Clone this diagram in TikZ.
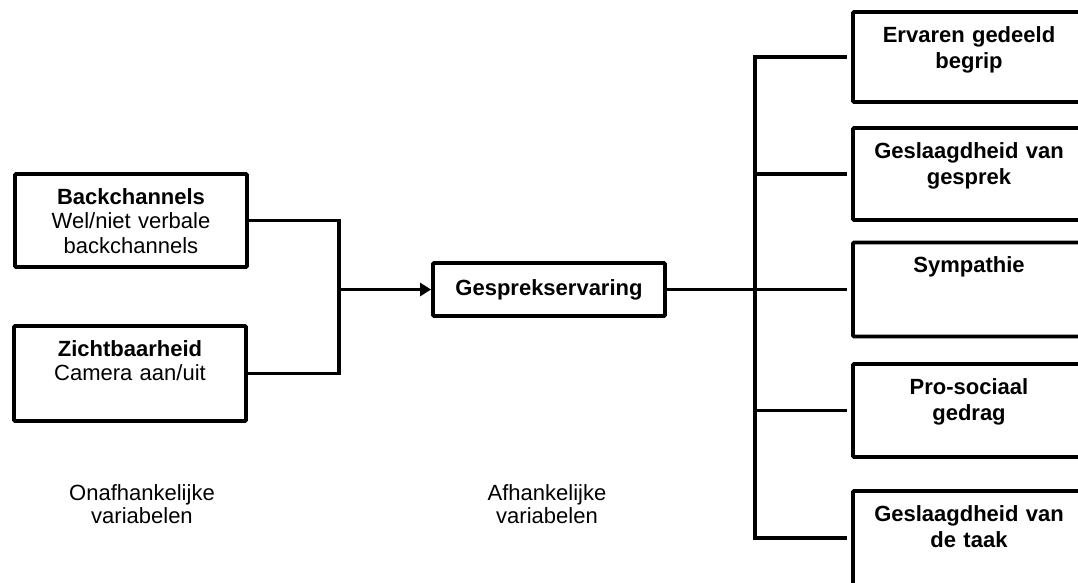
\documentclass[tikz,border=0pt]{standalone}
\usepackage{fontspec}
\setmainfont{Liberation Sans}
\usetikzlibrary{arrows.meta,calc}
\begin{document}
\begin{tikzpicture}[x=1pt,y=-1pt,
  box/.style={draw, line width=3.8pt, rectangle, inner sep=0pt, minimum width=232pt, rounded corners=1pt},
  lefttxt/.style={text width=232pt, align=center, inner sep=0pt, anchor=base, font=\fontsize{22}{24.5}\selectfont},
  righttxt/.style={text width=232pt, align=center, inner sep=0pt, anchor=base, font=\fontsize{22}{26}\selectfont\bfseries},
  labeltxt/.style={text width=232pt, align=center, inner sep=0pt, anchor=base, font=\fontsize{22}{23.5}\selectfont},
  conn/.style={line width=3.8pt},
  arr/.style={conn, -{Triangle[length=11pt,width=13pt]}}
]
\useasboundingbox (0,0) rectangle (1078,583);

% left boxes
\node[box, minimum height=93pt] (b1) at (131,220.5) {};
\node[box, minimum height=95pt] (b2) at (130,373.5) {};
\node[lefttxt] (t1) at ($(b1.north)+(0,32)$) {\textbf{Backchannels}\\Wel/niet verbale\\backchannels};
\node[lefttxt] (t2) at ($(b2.north)+(0,32)$) {\textbf{Zichtbaarheid}\\Camera aan/uit};

% middle box
\node[box, minimum height=53pt, font=\fontsize{22}{26}\selectfont\bfseries] (g) at (549,289.5) {Gesprekservaring};

% right boxes
\node[box, minimum height=90pt] (r1) at (969,57) {};
\node[box, minimum height=92pt] (r2) at (969,174) {};
\node[box, minimum height=94pt] (r3) at (969,289.5) {};
\node[box, minimum height=93pt] (r4) at (969,410.5) {};
\node[box, minimum height=94pt] (r5) at (969,538) {};
\node[righttxt] (s1) at ($(r1.north)+(0,32)$) {Ervaren gedeeld\\begrip};
\node[righttxt] (s2) at ($(r2.north)+(0,32)$) {Geslaagdheid van\\gesprek};
\node[righttxt] (s3) at ($(r3.north)+(0,32)$) {Sympathie};
\node[righttxt] (s4) at ($(r4.north)+(0,32)$) {Pro-sociaal\\gedrag};
\node[righttxt] (s5) at ($(r5.north)+(0,32)$) {Geslaagdheid van\\de taak};

% bottom labels
\node[labeltxt] (l1) at (142,500) {Onafhankelijke\\variabelen};
\node[labeltxt] (l2) at (547,500) {Afhankelijke\\variabelen};

% connectors
\coordinate (jx) at (339,0);
\coordinate (j) at (g.west -| jx);
\draw[conn] (b1.east) -| (j) |- (b2.east);
\draw[arr] (j) -- (g.west);

\coordinate (kx) at (755,0);
\draw[conn, shorten >=4pt] (g.east) -- (r3.west);
\draw[conn, shorten <=4pt, shorten >=4pt] (r1.west) -- (r1.west -| kx) -- (r5.west -| kx) -- (r5.west);
\draw[conn, shorten >=4pt] (r2.west -| kx) -- (r2.west);
\draw[conn, shorten >=4pt] (r4.west -| kx) -- (r4.west);
\end{tikzpicture}
\end{document}
